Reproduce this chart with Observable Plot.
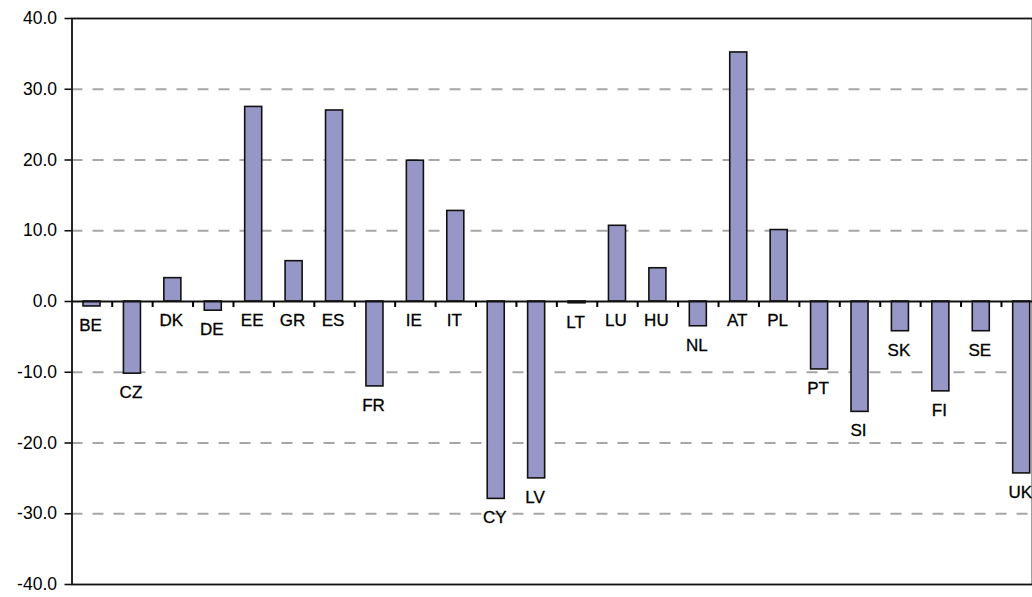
<!DOCTYPE html>
<html>
<head>
<meta charset="utf-8">
<script src="https://cdn.jsdelivr.net/npm/d3@7"></script>
<script src="https://cdn.jsdelivr.net/npm/@observablehq/plot@0.6"></script>
<style>
  html, body { margin: 0; padding: 0; background: #fff; }
  #chart svg { display: block; }
</style>
</head>
<body>
<div id="chart"></div>
<script>
const countries = ["BE","CZ","DK","DE","EE","GR","ES","FR","IE","IT","CY","LV","LT","LU","HU","NL","AT","PL","PT","SI","SK","FI","SE","UK"];
const values = [-0.7,-10.2,3.3,-1.3,27.5,5.7,27.0,-12.0,19.9,12.8,-27.9,-25.0,-0.25,10.7,4.7,-3.5,35.2,10.1,-9.6,-15.6,-4.2,-12.7,-4.2,-24.3];
const yTicks = [-40,-30,-20,-10,0,10,20,30,40];
const gridValues = [-30,-20,-10,10,20,30];

const data = countries.map((c, i) => ({country: c, value: values[i], index: i}));
const boundaries = countries.slice(1).map((c, i) => i + 1);

const chart = Plot.plot({
  width: 1032,
  height: 597,
  marginTop: 18,
  marginBottom: 13,
  marginLeft: 71.5,
  marginRight: 0,
  style: {fontFamily: "'Liberation Sans', Arial, sans-serif", fontSize: "17px", color: "#000", background: "#fff"},
  x: {type: "linear", domain: [0, countries.length], range: [71.3, 1041.4], axis: null},
  y: {domain: [-40, 40], axis: null},
  marks: [
    Plot.ruleY(gridValues, {stroke: "#a6a6a6", strokeWidth: 2, strokeDasharray: "11,10"}),
    Plot.rectY(data, {x1: "index", x2: d => d.index + 1, y1: 0, y2: "value", insetLeft: 11.7, insetRight: 11.7, fill: "#9797c7", stroke: "#111", strokeWidth: 1.6}),
    Plot.ruleY([0], {stroke: "#111", strokeWidth: 2}),
    Plot.ruleX(boundaries, {x: d => d, y1: 0, y2: -0.85, stroke: "#000", strokeWidth: 2}),
    Plot.frame({stroke: "#111", strokeWidth: 1.8}),
    Plot.axisY({
      ticks: yTicks,
      tickFormat: d => d.toFixed(1),
      tickSize: 7,
      tickPadding: 8,
      fontSize: 17.5,
      stroke: "#111",
      strokeWidth: 1.6,
      label: null,
      style: {letterSpacing: "1.1px"}
    }),
    Plot.text(data, {
      x: d => d.index + 0.5,
      y: d => Math.min(d.value, 0),
      text: "country",
      dy: 19,
      dx: -1.5,
      lineAnchor: "middle",
      fontSize: 17,
      fill: "#000",
      stroke: "#000",
      strokeWidth: 0.3
    })
  ]
});
document.getElementById("chart").appendChild(chart);
</script>
</body>
</html>
